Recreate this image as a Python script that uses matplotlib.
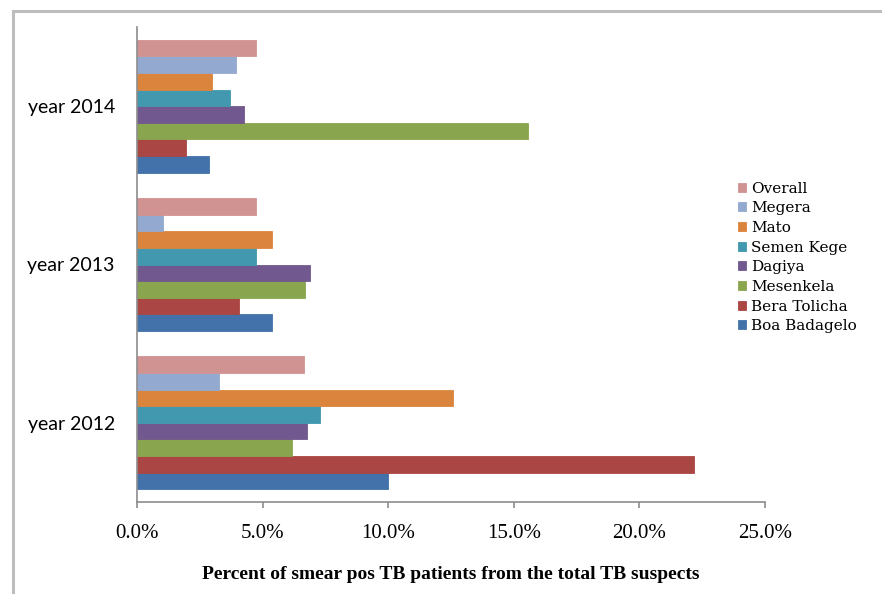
import numpy as np
import matplotlib
matplotlib.use("Agg")
import matplotlib.pyplot as plt
from matplotlib.patches import Rectangle
from matplotlib.ticker import FuncFormatter

years = ["year 2012", "year 2013", "year 2014"]
sites = ["Boa Badagelo", "Bera Tolicha", "Mesenkela", "Dagiya",
         "Semen Kege", "Mato", "Megera", "Overall"]

# percent smear positive, one list per site (2012, 2013, 2014)
boa_badagelo = [9.99, 5.37, 2.86]
bera_tolicha = [22.19, 4.08, 1.94]
mesenkela = [6.19, 6.68, 15.57]
dagiya = [6.76, 6.87, 4.26]
semen_kege = [7.29, 4.74, 3.70]
mato = [12.58, 5.37, 2.97]
megera = [3.28, 1.05, 3.94]
overall = [6.63, 4.74, 4.74]

series = [boa_badagelo, bera_tolicha, mesenkela, dagiya,
          semen_kege, mato, megera, overall]
colors = ["#4372AA", "#AA4643", "#89A54E", "#71588F",
          "#4198AF", "#DB843D", "#93A9CF", "#D19392"]

fig = plt.figure(figsize=(8.82, 5.94), dpi=100)
ax = fig.add_axes([137 / 882, 92 / 594, 628 / 882, 475 / 594])

n = len(series)
h = 0.84 / n
y = np.arange(len(years))
bars = []
for i, (vals, c) in enumerate(zip(series, colors)):
    off = (i - (n - 1) / 2) * h
    b = ax.barh(y + off, vals, height=h, color=c, edgecolor=c,
                linewidth=0.6, label=sites[i])
    bars.append(b)

ax.set_xlim(0, 25)
ax.set_ylim(-0.5, 2.5)
ax.set_xticks(np.arange(0, 26, 5))
ax.xaxis.set_major_formatter(FuncFormatter(lambda v, p: "%.1f%%" % v))
ax.set_yticks(y)
ax.set_yticklabels(years, fontfamily="Lato", fontsize=14)

for s in ["top", "right"]:
    ax.spines[s].set_visible(False)
for s in ["left", "bottom"]:
    ax.spines[s].set_color("#8c8c8c")
    ax.spines[s].set_linewidth(1.2)
ax.tick_params(axis="x", direction="out", length=4.5, color="#8c8c8c",
               width=1.2, pad=11, labelsize=15)
for t in ax.get_xticklabels():
    t.set_fontfamily("Liberation Serif")
ax.tick_params(axis="y", length=0, pad=16)

ax.set_xlabel("Percent of smear pos TB patients from the total TB suspects",
              fontfamily="Liberation Serif", fontweight="bold", fontsize=14,
              labelpad=17)

leg = fig.legend(bars[::-1], sites[::-1], loc="upper left",
                 bbox_to_anchor=(730 / 882, 1 - 174 / 594),
                 frameon=False, handlelength=0.55, handleheight=0.55,
                 handletextpad=0.35, labelspacing=0.37, borderpad=0,
                 prop={"family": "DejaVu Serif", "size": 11})

# chart area border
fig.patches.append(Rectangle((13 / 882, -0.05), 1.0, 1 - 11 / 594 + 0.05,
                             transform=fig.transFigure, fill=False,
                             edgecolor="#bdbdbd", linewidth=2.2))

fig.savefig("out.png", dpi=100)
